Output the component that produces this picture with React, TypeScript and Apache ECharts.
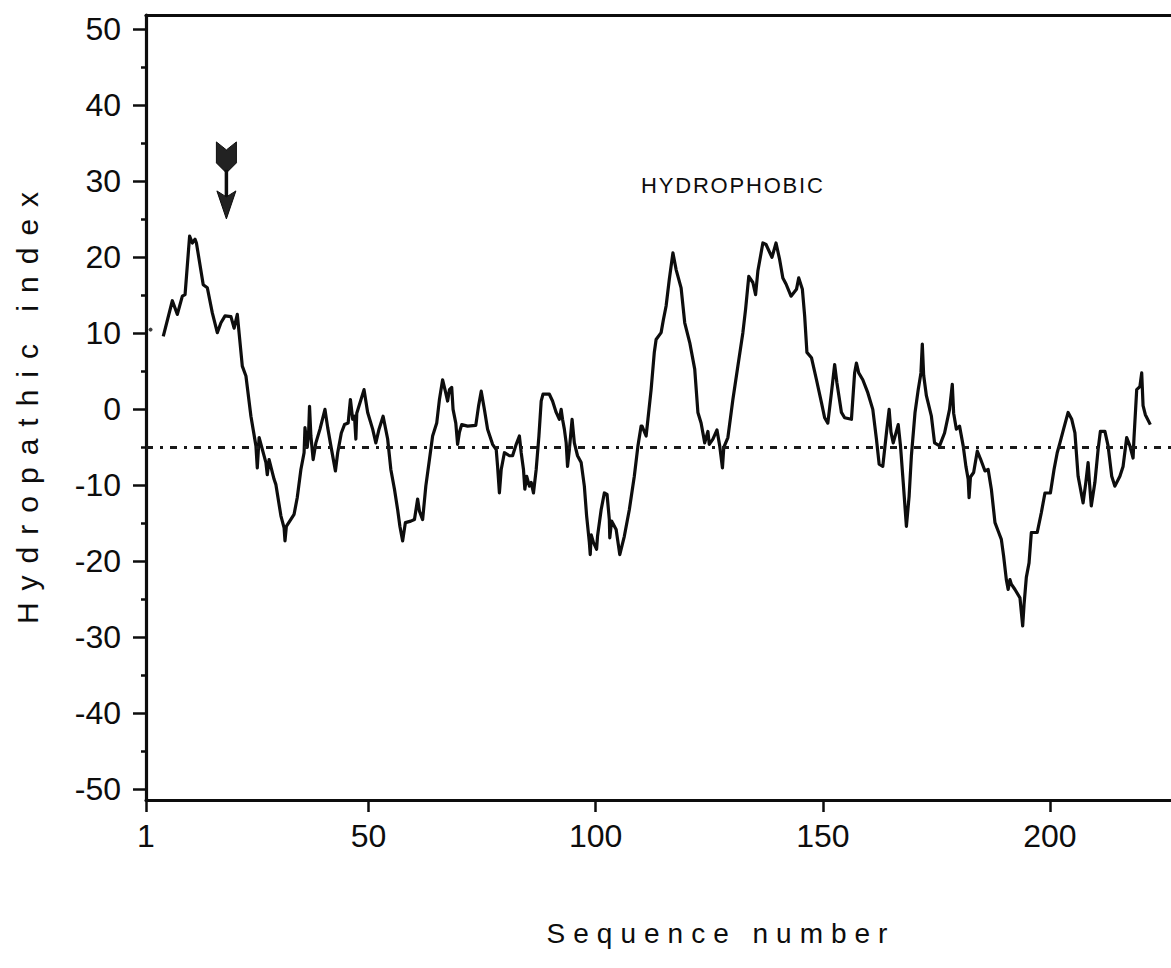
import React, { useEffect, useRef } from "react";
import * as echarts from "echarts";

// ---- data ----
const SEQ_POS = [
  4.8, 6.8, 7.9, 9.0, 9.6, 10.6, 11.2, 11.8, 12.1, 13.6, 14.5, 15.6, 16.7, 17.5, 18.4, 19.7, 20.4, 21.1, 22.2, 23.0,
  24.1, 25.2, 25.5, 25.9, 27.4, 27.7, 28.1, 29.2, 29.6, 30.7, 31.4, 31.6, 31.9, 33.6, 34.3, 35.1, 35.8, 36.0, 36.5, 36.8,
  37.0, 37.3, 37.8, 38.4, 39.3, 40.4, 41.0, 41.7, 42.7, 43.2, 44.0, 44.7, 45.5, 46.0, 46.5, 46.9, 47.2, 47.4, 49.0, 49.8,
  50.9, 51.6, 52.3, 53.2, 54.2, 54.9, 55.7, 56.4, 56.9, 57.5, 58.1, 59.3, 60.1, 60.8, 61.2, 61.9, 62.6, 63.4, 64.1, 65.0,
  65.6, 66.3, 66.9, 67.4, 67.8, 68.3, 68.6, 69.2, 69.6, 70.0, 70.5, 71.8, 73.6, 74.2, 74.8, 75.5, 76.2, 77.3, 78.1, 78.4,
  78.8, 79.2, 79.9, 81.0, 81.7, 82.5, 83.2, 83.6, 84.1, 84.4, 84.8, 85.4, 85.8, 86.3, 86.9, 87.5, 88.0, 88.4, 89.8, 90.5,
  91.3, 92.0, 92.4, 92.7, 93.1, 93.5, 93.8, 94.2, 94.8, 95.3, 96.0, 96.8, 97.5, 98.0, 98.6, 98.8, 99.0, 99.5, 100.2, 100.4,
  101.2, 101.9, 102.5, 103.0, 103.1, 103.5, 104.5, 105.3, 106.3, 107.4, 108.5, 109.3, 110.0, 110.2, 111.1, 111.5, 112.2, 112.9, 113.3, 114.4,
  114.9, 115.5, 116.2, 117.0, 117.7, 118.8, 119.6, 120.7, 121.8, 122.5, 123.2, 124.0, 124.7, 125.0, 125.8, 126.7, 127.3, 127.9, 128.2, 129.1,
  130.2, 131.3, 132.4, 133.0, 133.7, 134.6, 135.2, 135.7, 136.8, 137.5, 138.8, 139.7, 140.5, 141.2, 141.9, 143.0, 144.2, 144.7, 145.5, 146.0,
  146.5, 147.5, 148.6, 149.7, 150.4, 151.1, 151.9, 152.6, 153.1, 154.1, 154.8, 156.3, 157.0, 157.4, 157.9, 158.8, 159.9, 161.0, 161.8, 162.4,
  163.2, 164.0, 164.6, 165.0, 165.5, 166.6, 167.1, 167.7, 168.4, 169.0, 169.5, 170.3, 171.0, 171.6, 171.9, 172.2, 172.8, 173.9, 174.6, 175.7,
  176.8, 177.9, 178.5, 178.8, 179.4, 180.1, 180.9, 181.5, 182.0, 182.2, 182.5, 183.2, 184.0, 184.7, 185.7, 186.4, 187.1, 187.9, 188.6, 189.3,
  189.8, 190.4, 190.8, 191.2, 191.5, 192.3, 193.4, 194.0, 194.3, 194.8, 195.4, 195.9, 197.2, 198.1, 198.9, 200.1, 200.9, 201.6, 202.2, 203.0,
  204.0, 204.8, 205.5, 206.2, 207.3, 207.9, 208.4, 208.7, 209.1, 209.9, 210.6, 211.1, 212.1, 212.8, 213.6, 214.3, 215.4, 216.1, 216.9, 217.6,
  218.3, 218.5, 219.1, 219.8, 220.2, 220.5, 221.0, 222.1,
];
const HYDRO_INDEX = [
  9.6, 14.3, 12.5, 14.9, 15.1, 22.8, 21.9, 22.4, 21.9, 16.4, 16.0, 12.7, 10.1, 11.4, 12.3, 12.2, 10.7, 12.5, 5.7, 4.4,
  -0.9, -4.8, -7.7, -3.7, -7.0, -8.6, -6.6, -9.2, -9.9, -14.0, -15.6, -17.3, -15.4, -13.8, -11.6, -7.9, -5.7, -2.4, -5.0, -3.0,
  0.4, -3.5, -6.6, -4.4, -2.6, 0.0, -2.4, -4.8, -8.1, -5.7, -3.1, -2.0, -1.8, 1.3, -1.3, -0.9, -3.9, -0.5, 2.6, -0.4,
  -2.6, -4.4, -2.6, -0.9, -3.9, -7.9, -10.5, -13.2, -15.4, -17.3, -14.9, -14.7, -14.5, -11.8, -13.4, -14.5, -10.1, -6.6, -3.5, -1.8,
  1.3, 3.9, 2.4, 1.1, 2.6, 2.9, 0.0, -1.8, -4.6, -3.0, -2.0, -2.2, -2.1, 0.4, 2.4, 0.0, -2.6, -4.6, -5.3, -7.5,
  -11.0, -7.9, -5.7, -6.1, -6.1, -4.6, -3.5, -5.7, -7.9, -10.5, -8.8, -10.1, -9.6, -11.0, -7.9, -3.5, 1.1, 2.0, 2.0, 1.1,
  -0.4, -1.3, 0.0, -1.3, -2.6, -4.4, -7.5, -5.3, -1.3, -4.4, -6.1, -7.0, -10.1, -14.0, -17.5, -19.1, -16.5, -17.5, -18.4, -16.7,
  -13.2, -11.0, -11.2, -14.5, -16.9, -14.7, -15.8, -19.1, -16.7, -13.2, -8.8, -4.8, -2.2, -2.2, -3.5, -1.3, 2.6, 7.5, 9.2, 10.1,
  11.8, 13.6, 17.1, 20.6, 18.4, 16.0, 11.4, 8.8, 5.3, -0.4, -1.8, -4.4, -2.9, -4.6, -3.9, -2.7, -4.8, -7.7, -5.0, -3.7,
  1.3, 5.7, 10.1, 13.2, 17.5, 16.7, 15.1, 18.2, 21.9, 21.7, 20.0, 21.9, 19.7, 17.3, 16.5, 14.9, 15.8, 17.3, 15.8, 12.3,
  7.5, 6.8, 3.9, 0.9, -1.1, -1.8, 2.2, 5.9, 3.5, -0.4, -1.1, -1.3, 4.8, 6.1, 4.8, 3.9, 2.2, 0.0, -3.9, -7.2,
  -7.5, -3.1, 0.0, -3.0, -4.4, -2.0, -4.8, -9.6, -15.4, -11.4, -6.1, -0.4, 2.6, 4.8, 8.6, 4.5, 1.8, -0.9, -4.4, -4.8,
  -3.1, 0.0, 3.3, -0.5, -2.6, -2.2, -4.8, -7.5, -9.2, -11.6, -8.9, -8.3, -5.5, -6.5, -8.1, -7.9, -10.5, -14.9, -16.0, -17.1,
  -19.3, -22.4, -23.7, -22.4, -23.0, -23.7, -24.8, -28.5, -25.7, -22.1, -20.2, -16.2, -16.2, -13.6, -11.0, -11.0, -7.9, -5.7, -4.4, -2.6,
  -0.4, -1.3, -3.1, -8.8, -12.3, -9.6, -7.0, -9.6, -12.7, -9.6, -5.3, -2.9, -2.9, -4.8, -8.8, -10.1, -8.8, -7.5, -3.7, -4.8,
  -6.4, -3.8, 2.6, 3.0, 4.8, 0.5, -0.7, -2.0,
];
const STRAY_POINT = [[2.0, 10.5]];
const BASELINE = -5;
const X_TICKS = [1, 50, 100, 150, 200];
const Y_MAJOR = [-50, -40, -30, -20, -10, 0, 10, 20, 30, 40, 50];
const Y_MINOR = [-45, -35, -25, -15, -5, 5, 15, 25, 35, 45];
const X_MIN = 1;
const X_MAX = 226.65;
const Y_MIN = -51.4;
const Y_MAX = 51.9;
const REGION_LABEL = "HYDROPHOBIC";
const REGION_LABEL_AT = [130.0, 29.5];
const ARROW_AT = [18.7, 35.2]; // sequence position, top of arrow (index units)
const X_TITLE = "Sequence number";
const Y_TITLE = "Hydropathic index";

const FONT = "'Liberation Sans', Arial, Helvetica, sans-serif";
const INK = "#0d0d0d";

export default function App() {
  const ref = useRef<HTMLDivElement>(null);

  useEffect(() => {
    const el = ref.current;
    if (!el) return;
    const chart = echarts.init(el, undefined, { renderer: "svg", width: 1171, height: 968 });
    const lineData = SEQ_POS.map((s, i) => [s, HYDRO_INDEX[i]]);

    const option: any = {
      animation: false,
      backgroundColor: "#ffffff",
      grid: { left: 146, right: 0, top: 15, bottom: 168, containLabel: false },
      xAxis: [
        {
          type: "value",
          min: X_MIN,
          max: X_MAX,
          position: "bottom",
          axisLine: { show: true, onZero: false, lineStyle: { color: INK, width: 3.2 } },
          axisTick: { show: true, customValues: X_TICKS, length: 12, lineStyle: { color: INK, width: 2.5 } },
          axisLabel: { show: true, customValues: X_TICKS, margin: 20, fontSize: 32, color: INK, fontFamily: FONT },
          splitLine: { show: false },
        },
        {
          type: "value",
          min: X_MIN,
          max: X_MAX,
          position: "top",
          axisLine: { show: true, onZero: false, lineStyle: { color: INK, width: 3.2 } },
          axisTick: { show: false },
          axisLabel: { show: false },
          splitLine: { show: false },
        },
      ],
      yAxis: [
        {
          type: "value",
          min: Y_MIN,
          max: Y_MAX,
          position: "left",
          axisLine: { show: true, onZero: false, lineStyle: { color: INK, width: 3.2 } },
          axisTick: { show: true, customValues: Y_MAJOR, length: 13, lineStyle: { color: INK, width: 2.5 } },
          axisLabel: { show: true, customValues: Y_MAJOR, margin: 25, fontSize: 32, color: INK, fontFamily: FONT },
          splitLine: { show: false },
        },
        {
          type: "value",
          min: Y_MIN,
          max: Y_MAX,
          position: "left",
          axisLine: { show: false, onZero: false },
          axisTick: { show: true, customValues: Y_MINOR, length: 5, lineStyle: { color: INK, width: 2.5 } },
          axisLabel: { show: false },
          splitLine: { show: false },
        },
      ],
      series: [
        {
          type: "line",
          xAxisIndex: 0,
          yAxisIndex: 0,
          data: lineData,
          showSymbol: false,
          symbol: "none",
          silent: true,
          emphasis: { disabled: true },
          lineStyle: { color: INK, width: 3.2, join: "round" },
          markLine: {
            silent: true,
            symbol: ["none", "none"],
            label: { show: false },
            emphasis: { disabled: true },
            lineStyle: { color: "#1a1a1a", width: 3, type: [7, 7, 3, 7] },
            data: [{ yAxis: BASELINE }],
          },
        },
        {
          type: "scatter",
          xAxisIndex: 0,
          yAxisIndex: 0,
          data: STRAY_POINT,
          symbolSize: 4,
          silent: true,
          itemStyle: { color: INK },
        },
      ],
    };
    chart.setOption(option);

    const ap = chart.convertToPixel({ xAxisIndex: 0, yAxisIndex: 0 }, ARROW_AT) as number[];
    const lp = chart.convertToPixel({ xAxisIndex: 0, yAxisIndex: 0 }, REGION_LABEL_AT) as number[];

    const SP_LABEL = 1.8;
    const SP_X = 8;
    const SP_Y = 12;

    chart.setOption({
      graphic: [
        {
          type: "group",
          x: ap[0],
          y: ap[1],
          silent: true,
          children: [
            {
              type: "polygon",
              shape: { points: [[-10, 0], [0, 8], [10, 0], [10, 21], [0, 31], [-10, 21]] },
              style: { fill: "#222", stroke: INK, lineWidth: 1 },
            },
            {
              type: "line",
              shape: { x1: 0, y1: 28, x2: 0, y2: 56 },
              style: { stroke: INK, lineWidth: 3.5 },
            },
            {
              type: "polygon",
              shape: { points: [[-9.5, 49], [0, 55], [9.5, 49], [0, 77]] },
              style: { fill: "#222", stroke: INK, lineWidth: 1 },
            },
          ],
        },
        {
          type: "text",
          x: lp[0] + SP_LABEL / 2,
          y: lp[1],
          silent: true,
          style: {
            text: REGION_LABEL,
            fill: INK,
            fontSize: 22,
            fontFamily: FONT,
            align: "center",
            verticalAlign: "middle",
            textAlign: "center",
            textVerticalAlign: "middle",
          },
        },
        {
          type: "text",
          x: 717 + SP_X / 2,
          y: 933,
          silent: true,
          style: {
            text: X_TITLE,
            fill: INK,
            fontSize: 28,
            fontFamily: FONT,
            align: "center",
            verticalAlign: "middle",
            textAlign: "center",
            textVerticalAlign: "middle",
          },
        },
        {
          type: "text",
          x: 27,
          y: 408 - SP_Y / 2,
          rotation: Math.PI / 2,
          silent: true,
          style: {
            text: Y_TITLE,
            fill: INK,
            fontSize: 30,
            fontFamily: FONT,
            align: "center",
            verticalAlign: "middle",
            textAlign: "center",
            textVerticalAlign: "middle",
          },
        },
      ],
    });

    const applySpacing = () => {
      el.querySelectorAll("text").forEach((t) => {
        const s = t.textContent;
        if (s === X_TITLE) t.setAttribute("letter-spacing", String(SP_X));
        else if (s === Y_TITLE) t.setAttribute("letter-spacing", String(SP_Y));
        else if (s === REGION_LABEL) t.setAttribute("letter-spacing", String(SP_LABEL));
      });
    };
    applySpacing();
    chart.on("finished", applySpacing);

    return () => {
      chart.dispose();
    };
  }, []);

  return (
    <div
      ref={ref}
      style={{ position: "absolute", left: 0, top: 0, width: 1171, height: 968, background: "#fff" }}
    />
  );
}
